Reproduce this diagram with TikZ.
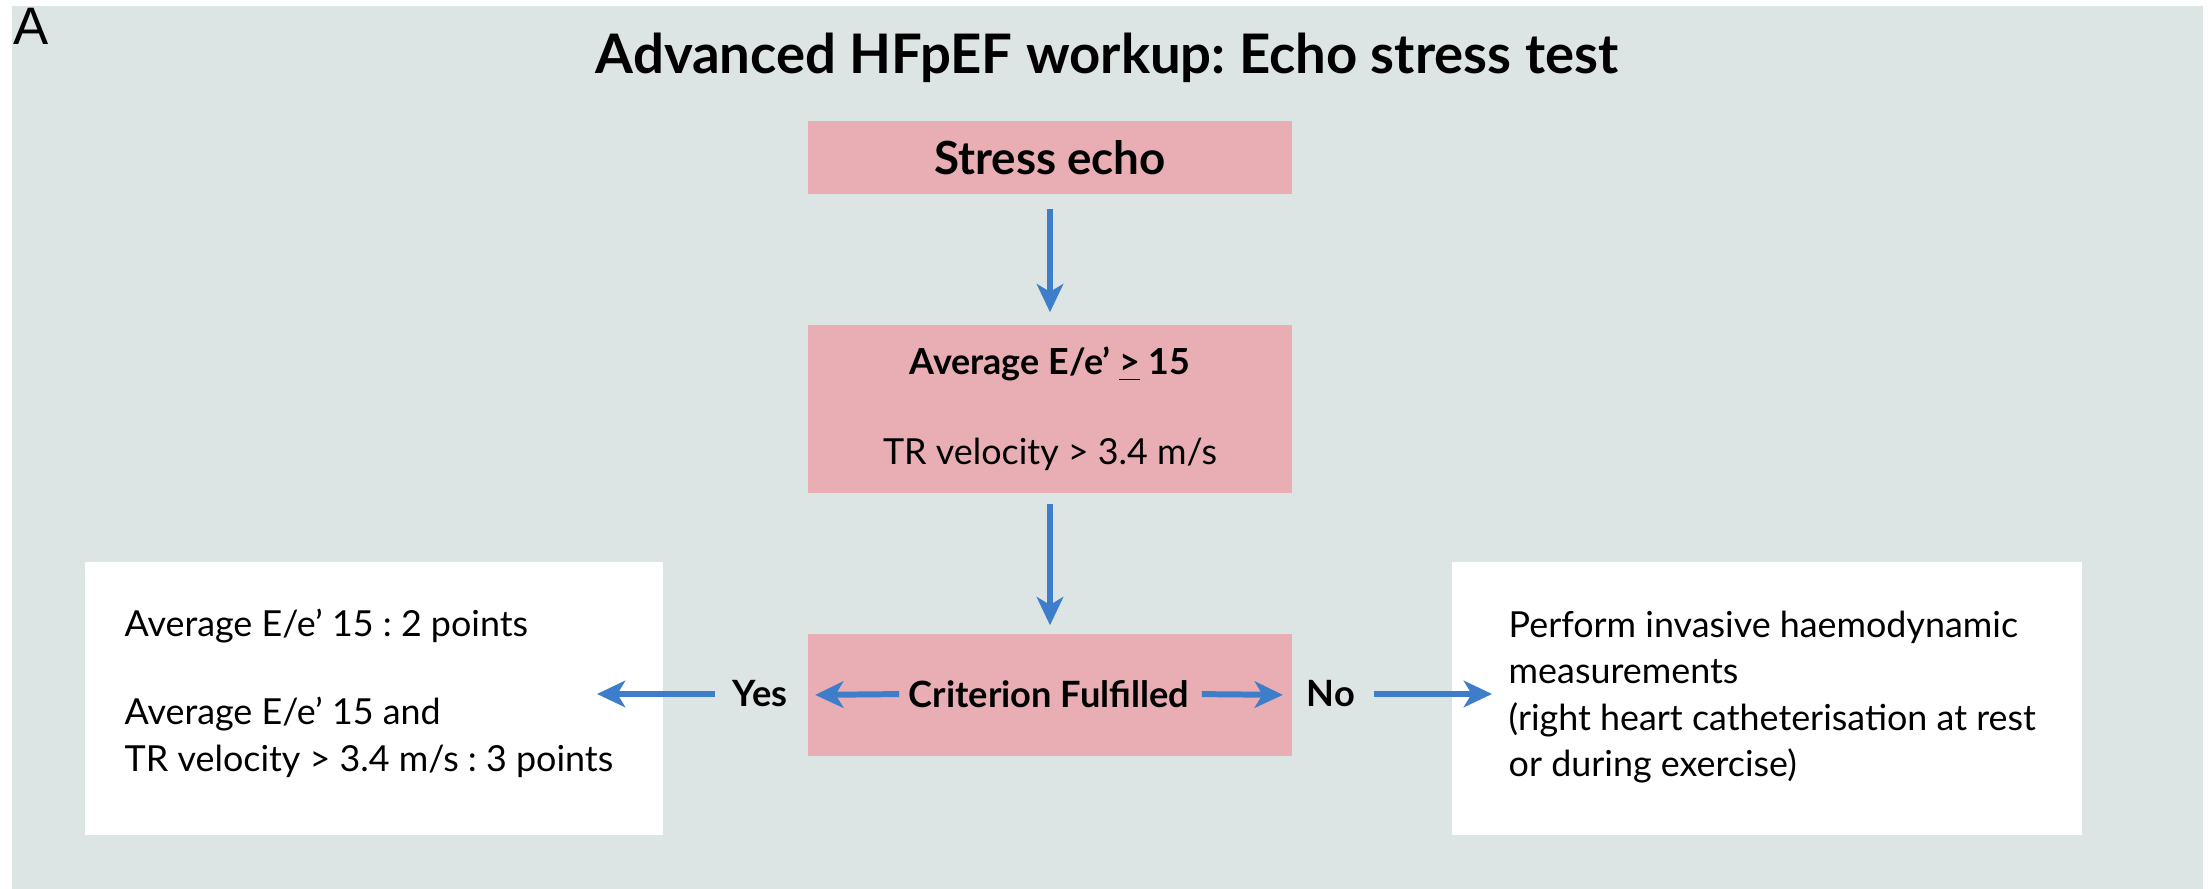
\documentclass[tikz,border=0pt]{standalone}
\usepackage{fontspec}
\setmainfont{Lato}
\newfontfamily\arialfont{Liberation Sans}
\usetikzlibrary{arrows.meta}
\frenchspacing
\definecolor{bgc}{RGB}{221,229,228}
\definecolor{pinkc}{RGB}{232,174,179}
\definecolor{bluec}{RGB}{62,125,202}
\tikzset{
  pinkbox/.style={fill=pinkc, draw=none, minimum width=4.84cm, inner sep=0pt},
  whitebox/.style={fill=white, draw=none, minimum height=2.73cm, inner sep=0pt},
  arr/.style={draw=bluec, line width=1.7pt, -{Stealth[length=8pt,width=7.5pt,inset=2.2pt]}},
  body/.style={font=\fontsize{10.2}{13.2}\selectfont, inner sep=0pt},
  hd/.style={font=\fontsize{10.3}{13.2}\selectfont\bfseries, inner sep=0pt},
  titlefont/.style={font=\fontsize{15.5}{18}\selectfont\bfseries, inner sep=0pt},
  big/.style={font=\fontsize{13}{16}\selectfont\bfseries, inner sep=0pt}
}
\begin{document}
\begin{tikzpicture}[x=0.01cm,y=-0.01cm]
\useasboundingbox (0,0) rectangle (2211,889);
\fill[bgc] (12,6) rectangle (2203,889);
\node[anchor=base west, inner sep=0pt, font=\arialfont\fontsize{15}{18}\selectfont] (lbl) at (13,45) {A};
\node[titlefont] (title) at (1107,58) {Advanced HFpEF workup: Echo stress test};
\node[pinkbox, minimum height=0.73cm, big] (stress) at (1050,157.5) {Stress echo};
\node[pinkbox, minimum height=1.68cm, align=center, body] (avg) at (1050,409)
  {\bfseries Average E/e’ \underline{>} 15\\[12.4pt] TR velocity > 3.4 m/s};
\node[pinkbox, minimum height=1.22cm] (crit) at (1050,695) {};
\node[hd] (crittext) at (1049,694) {Criterion Fulfilled};
\node[hd] (yes) at (760,694) {Yes};
\node[hd] (no) at (1331,694) {No};
\node[whitebox, minimum width=5.78cm] (ybox) at (374,698.5) {};
\node[whitebox, minimum width=6.30cm] (nbox) at (1767,698.5) {};
\node[body, anchor=west, align=left] (ytext) at (124,693)
  {Average E/e’ 15 : 2 points\\[12pt] Average E/e’ 15 and\\ TR velocity > 3.4 m/s : 3 points};
\node[body, anchor=west, align=left] (ntext) at (1508,697)
  {Perform invasive haemodynamic\\ measurements\\ (right heart catheterisation at rest\\ or during exercise)};
\coordinate (ytip) at (597,694);
\draw[arr, shorten <=0.14cm, shorten >=0.12cm] (stress) -- (avg);
\draw[arr, shorten <=0.10cm, shorten >=0.08cm] (avg) -- (crit);
\draw[arr, shorten <=0.09cm, shorten >=0.08cm] (crittext.west) -- (crit.west);
\draw[arr, shorten <=0.12cm, shorten >=0.10cm] (crittext.east) -- (crit.east);
\draw[arr, shorten <=0.17cm] (yes.west) -- (ytip);
\draw[arr, shorten <=0.18cm, shorten >=0.16cm] (no.east) -- (no.east -| ntext.west);
\end{tikzpicture}
\end{document}
